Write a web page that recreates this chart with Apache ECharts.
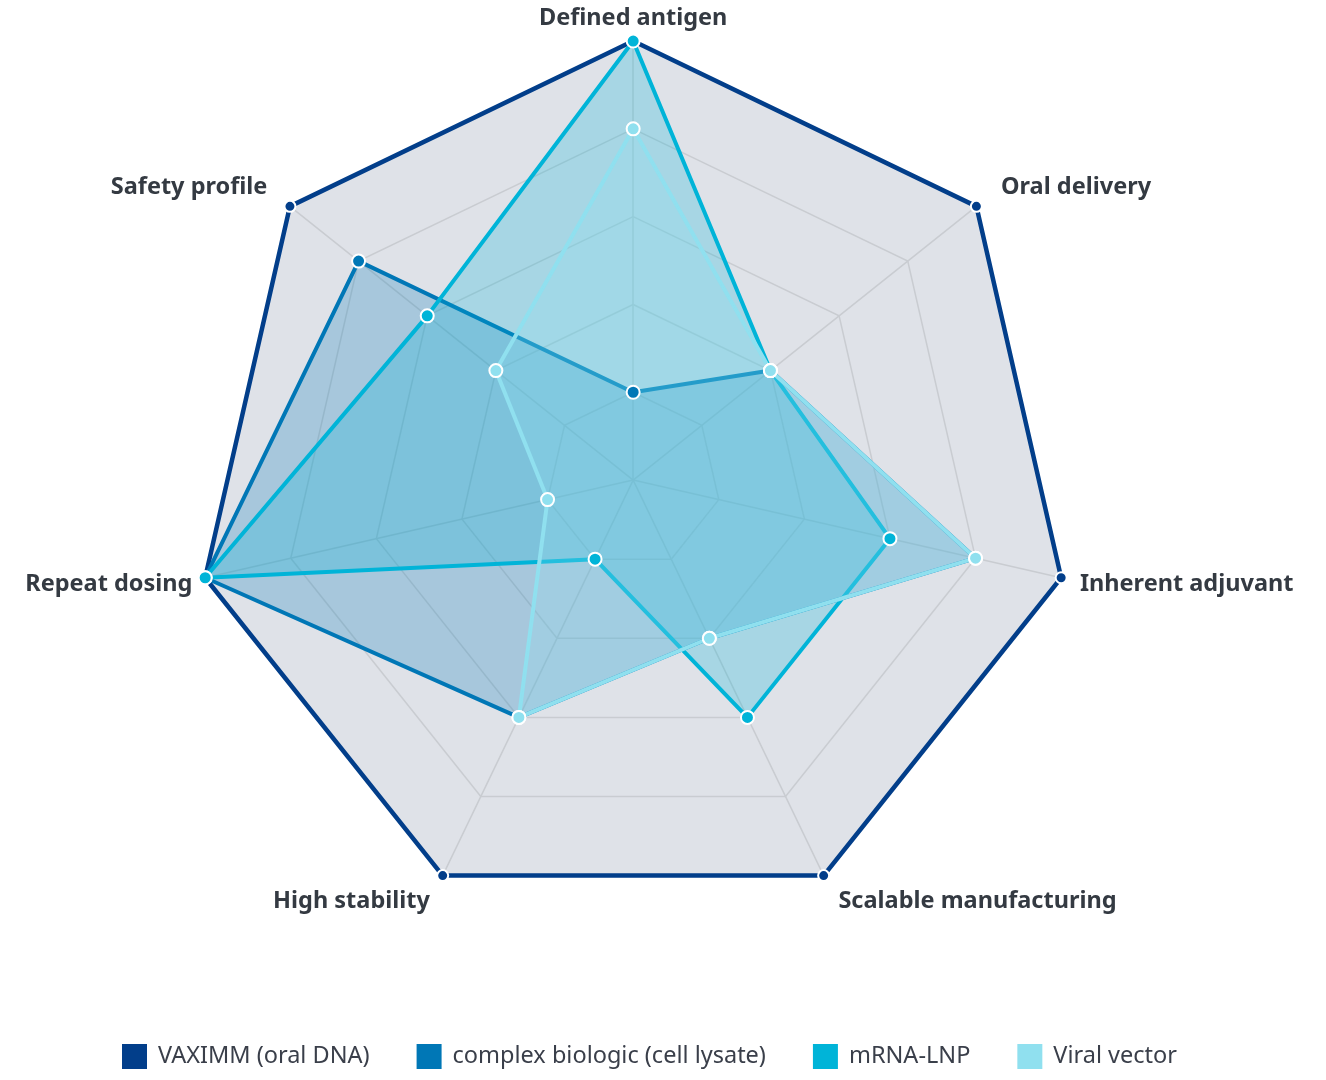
<!DOCTYPE html>
<html>
<head>
<meta charset="utf-8">
<script src="https://cdn.jsdelivr.net/npm/echarts@6/dist/echarts.min.js"></script>
<style>
html,body{margin:0;padding:0;background:#fff;}
#chart{width:1326px;height:1080px;}
</style>
</head>
<body>
<div id="chart"></div>
<script>
// Indicators listed clockwise starting from the top
const indicators = ['Defined antigen','Oral delivery','Inherent adjuvant','Scalable manufacturing','High stability','Repeat dosing','Safety profile'];
const maxValue = 5;
const seriesNames = ['VAXIMM (oral DNA)','complex biologic (cell lysate)','mRNA-LNP','Viral vector'];
const vaximm = [5,5,5,5,5,5,5];
const complexBiologic = [1,2,4,2,3,5,4];
const mrnaLnp = [5,2,3,3,1,5,3];
const viralVector = [4,2,4,2,3,1,2];
const colors = ['#023e8a','#0077b6','#00b4d8','#90e0ef'];
const values = [vaximm, complexBiologic, mrnaLnp, viralVector];

// ECharts lays radar indicators counter-clockwise; reorder to draw clockwise
const order = [0].concat(indicators.slice(1).map((_, i) => indicators.length - 1 - i));
const cw = arr => order.map(k => arr[k]);

const fontFam = '"Noto Sans", "Open Sans", sans-serif';
const nameBase = {color:'#343a42',fontSize:23.5,fontWeight:'bold',fontFamily:fontFam};
// label placement styles (padding per position around the polygon)
const rich = {
  top: Object.assign({}, nameBase),
  ur: Object.assign({padding:[0,0,24,16]}, nameBase),
  ul: Object.assign({padding:[0,14,24,0]}, nameBase),
  r: Object.assign({padding:[9,0,0,8]}, nameBase),
  l: Object.assign({padding:[9,2,0,0]}, nameBase),
  br: Object.assign({padding:[31,0,0,10]}, nameBase),
  bl: Object.assign({padding:[31,8,0,0]}, nameBase)
};
const posKey = ['top','ur','r','br','bl','l','ul']; // clockwise positions

const chart = echarts.init(document.getElementById('chart'));
chart.setOption({
  animation:false,
  color: colors,
  legend:{
    bottom: 9,
    left: 120,
    padding: 0,
    itemWidth: 27,
    itemHeight: 27,
    itemGap: 45,
    icon: 'rect',
    textStyle:{fontSize:23.5,color:'#3a3f4a',fontFamily:fontFam,padding:[0,0,0,5]},
    data: seriesNames
  },
  radar:{
    center:['47.75%','44.45%'],
    radius:439,
    startAngle:90,
    shape:'polygon',
    splitNumber:5,
    indicator: cw(indicators).map(n=>({name:n,max:maxValue,min:0})),
    axisName:{
      color:'#343a42',fontSize:23.5,fontWeight:'bold',fontFamily:fontFam,
      formatter: function(name){
        const k = posKey[indicators.indexOf(name)];
        return '{' + k + '|' + name + '}';
      },
      rich: rich
    },
    nameGap:11,
    splitLine:{lineStyle:{color:'#c9ccd1',width:1.5}},
    axisLine:{lineStyle:{color:'#c9ccd1',width:1.5}},
    splitArea:{show:true,areaStyle:{color:['#dfe2e8','#dfe2e8','#dfe2e8','#dfe2e8','#dfe2e8']}}
  },
  series: values.map((v,i)=>({
    type:'radar',
    name: seriesNames[i],
    symbol:'circle',
    symbolSize: i===0 ? 11 : 13,
    data:[{value:cw(v),name:seriesNames[i]}],
    lineStyle:{color:colors[i],width: i===0 ? 4.5 : 4},
    itemStyle:{color:colors[i],borderColor:'#ffffff',borderWidth:2},
    areaStyle: i===0 ? {opacity:0} : {color:colors[i],opacity:0.25}
  }))
});
</script>
</body>
</html>
